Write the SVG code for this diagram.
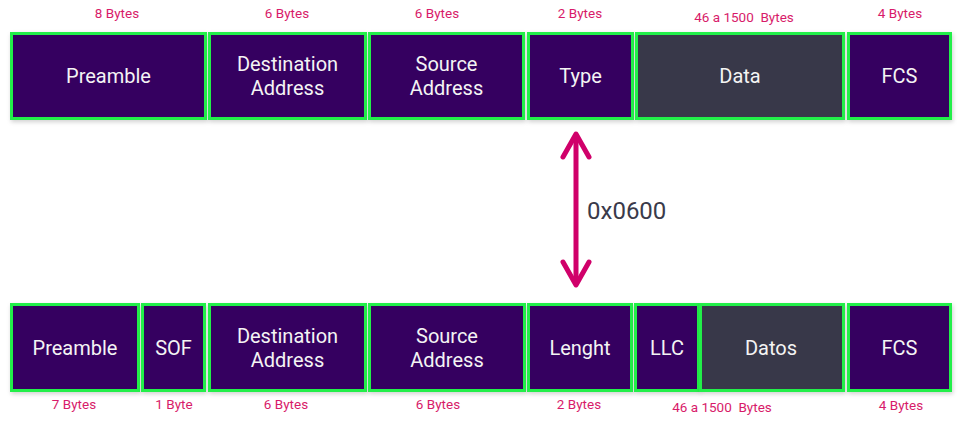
<svg xmlns="http://www.w3.org/2000/svg" width="972" height="430" viewBox="0 0 972 430">
<defs>
<filter id="sh" x="-10%" y="-10%" width="120%" height="130%">
<feDropShadow dx="1" dy="2" stdDeviation="2" flood-color="#000" flood-opacity="0.18"/>
</filter>
</defs>
<style>
.f{fill:#350060;stroke:#22ef4a;stroke-width:3;filter:url(#sh)}
.d{fill:#383849;stroke:#22ef4a;stroke-width:3;filter:url(#sh)}
.t{font-family:Roboto,"Noto Sans","Liberation Sans",sans-serif;font-size:20px;fill:#f4f4f4;text-anchor:middle}
.b{font-family:Roboto,"Noto Sans","Liberation Sans",sans-serif;font-size:13.5px;fill:#d81b6a;text-anchor:middle}
.hx{font-family:Roboto,"Noto Sans","Liberation Sans",sans-serif;font-size:24px;fill:#3a3a4a}
.ar{fill:none;stroke:#d0006a;stroke-width:5;stroke-linecap:round;stroke-linejoin:round}
</style>
<rect width="972" height="430" fill="#fff"/>
<g id="top-labels">
<text class="b" x="117" y="18">8 Bytes</text>
<text class="b" x="287" y="18">6 Bytes</text>
<text class="b" x="437" y="18">6 Bytes</text>
<text class="b" x="580" y="18">2 Bytes</text>
<text class="b" x="744" y="22">46 a 1500&#160; Bytes</text>
<text class="b" x="900" y="18">4 Bytes</text>
</g>
<g id="t-preamble"><rect class="f" x="11.5" y="33.5" width="194" height="85"/><text class="t" x="108.5" y="83">Preamble</text></g>
<g id="t-dest"><rect class="f" x="209.5" y="33.5" width="156" height="85"/><text class="t" x="287.5" y="71">Destination</text><text class="t" x="287.5" y="95">Address</text></g>
<g id="t-source"><rect class="f" x="369.5" y="33.5" width="154" height="85"/><text class="t" x="446.5" y="71">Source</text><text class="t" x="446.5" y="95">Address</text></g>
<g id="t-type"><rect class="f" x="528.5" y="33.5" width="104" height="85"/><text class="t" x="580.5" y="83">Type</text></g>
<g id="t-data"><rect class="d" x="636.5" y="33.5" width="207" height="85"/><text class="t" x="740" y="83">Data</text></g>
<g id="t-fcs"><rect class="f" x="848.5" y="33.5" width="102" height="85"/><text class="t" x="899.5" y="83">FCS</text></g>
<g id="connectors">
<line class="ar" x1="576" y1="136" x2="576" y2="282"/>
<polyline class="ar" points="563,157 576,134 589,157"/>
<polyline class="ar" points="563,262 576,285 589,262"/>
</g>
<text class="hx" x="587" y="219">0x0600</text>
<g id="b-preamble"><rect class="f" x="11.5" y="304.5" width="127" height="86"/><text class="t" x="75" y="355">Preamble</text></g>
<g id="b-sof"><rect class="f" x="142.5" y="304.5" width="62" height="86"/><text class="t" x="173.5" y="355">SOF</text></g>
<g id="b-dest"><rect class="f" x="209.5" y="304.5" width="156" height="86"/><text class="t" x="287.5" y="343">Destination</text><text class="t" x="287.5" y="367">Address</text></g>
<g id="b-source"><rect class="f" x="369.5" y="304.5" width="155" height="86"/><text class="t" x="447" y="343">Source</text><text class="t" x="447" y="367">Address</text></g>
<g id="b-length"><rect class="f" x="528.5" y="304.5" width="103" height="86"/><text class="t" x="580" y="355">Lenght</text></g>
<g id="b-llc"><rect class="f" x="635.5" y="304.5" width="63" height="86"/><text class="t" x="667" y="355">LLC</text></g>
<g id="b-datos"><rect class="d" x="700.5" y="304.5" width="143" height="86"/><text class="t" x="771" y="355">Datos</text></g>
<g id="b-fcs"><rect class="f" x="848.5" y="304.5" width="102" height="86"/><text class="t" x="899.5" y="355">FCS</text></g>
<g id="bottom-labels">
<text class="b" x="74" y="409">7 Bytes</text>
<text class="b" x="174" y="409">1 Byte</text>
<text class="b" x="286" y="409">6 Bytes</text>
<text class="b" x="438" y="409">6 Bytes</text>
<text class="b" x="579" y="409">2 Bytes</text>
<text class="b" x="722" y="412">46 a 1500&#160; Bytes</text>
<text class="b" x="901" y="410">4 Bytes</text>
</g>
</svg>
